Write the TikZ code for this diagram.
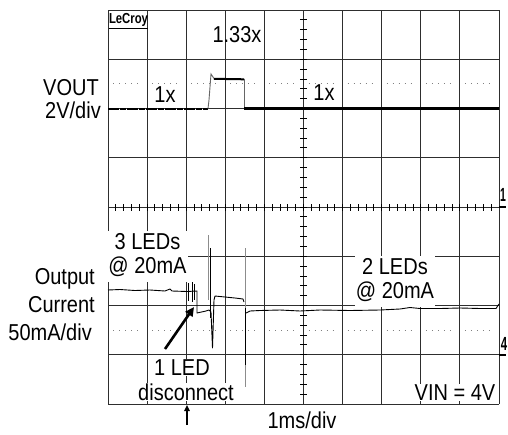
\documentclass[tikz,border=0pt]{standalone}
\usepackage{fontspec}
\setmainfont{Liberation Sans}
\usepackage{graphicx}
\usetikzlibrary{arrows.meta}
\newcommand\vs[1]{\scalebox{1}[1.15]{#1}}
\newcommand\vstwo[2]{\scalebox{1}[1.15]{\begin{tabular}{@{}c@{}}#1\\[-1pt]#2\end{tabular}}}
\begin{document}
\begin{tikzpicture}[x=1pt,y=-1pt,
  gridline/.style={black!82, line width=0.9pt},
  tickline/.style={black, line width=0.9pt},
  dotline/.style={black!50, line width=0.8pt, dash pattern=on 1pt off 5pt},
  trace/.style={black, line width=0.9pt, line join=round},
  graytrace/.style={black!45, line width=1pt},
  lbl/.style={font=\fontsize{20}{22}\selectfont, inner sep=1pt},
  wlbl/.style={lbl, fill=white},
  rlbl/.style={lbl, anchor=east},
  chmark/.style={font=\fontsize{19}{19}\selectfont\bfseries, inner sep=0pt}]
\useasboundingbox (0,0) rectangle (508,434);
\fill[white] (0,0) rectangle (508,434);
% grid
\foreach \i in {0,...,10} \draw[gridline] ({108+39.1*\i},10) -- ({108+39.1*\i},404);
\foreach \j in {0,...,8} \draw[gridline] (108,{10+49.25*\j}) -- (499,{10+49.25*\j});
% center ticks
\foreach \k in {1,...,49} \draw[tickline] ({108+7.82*\k},204) -- ({108+7.82*\k},210.5);
\foreach \k in {1,...,39} \draw[tickline] (300,{10+9.85*\k}) -- (307,{10+9.85*\k});
% dotted reference lines
\foreach \i in {0,...,9} {
  \draw[dotline] ({108+39.1*\i+5},83.6) -- ++(29,0);
  \draw[dotline] ({108+39.1*\i+5},330.1) -- ++(29,0);
}
% upper trace (VOUT)
\draw[black, line width=2pt, dash pattern=on 11pt off 1pt on 6pt off 1pt] (108,108.5) -- (208,108.5);
\draw[black!60, line width=0.9pt] (208,108.5) -- (209,100) -- (211,74) -- (214,78.5);
\draw[black, line width=2pt] (214,78.8) -- (244,79.3);
\draw[black!60, line width=0.9pt] (244,79) -- (244,108.5);
\draw[black, line width=3pt] (244,108.5) -- (499,108.5);
% lower trace (output current)
\draw[trace] (108,290) -- (120,289.5) -- (135,290.5) -- (150,290) -- (165,291) -- (170,289)
  -- (172,291) -- (187,291.5) -- (197,291) -- (197,313) -- (206,311) -- (209,310)
  -- (211,312) -- (212.5,348) -- (214,300) -- (215,296) -- (225,297) -- (235,298)
  -- (243,299) -- (244,302);
\draw[trace] (188,283) -- (188,301) (192,282) -- (192,302) (194.5,284) -- (194.5,300);
\draw[graytrace] (208.3,235) -- (208.3,300);
\draw[black, line width=1.2pt] (210.3,248) -- (210.3,318);
\draw[graytrace] (245,248) -- (245,387);
\draw[black, line width=1.2pt] (245.5,308) -- (245.5,365);
\draw[trace] (246,313) -- (250,311) -- (260,310.5) -- (280,310) -- (300,311) -- (320,310)
  -- (350,310.5) -- (380,310) -- (400,309) -- (410,307.5) -- (420,308.5) -- (440,308.5)
  -- (460,308) -- (480,308.5) -- (496,308.5) -- (499,304);
% channel markers
\node[chmark] (m1) at (503,195) {\scalebox{0.55}[1]{1}};
\draw[black, line width=1.6pt] (499,207) -- (506,207);
\node[chmark] (m4) at (504,344) {\scalebox{0.6}[1]{4}};
\draw[black, line width=1.6pt] (499,355) -- (506,355);
% labels
\node[font=\fontsize{14.5}{15}\selectfont\bfseries, inner sep=0pt] (lecroy) at (128.5,21) {\scalebox{0.78}[1]{\underline{LeCroy}}};
\node[lbl] (x133) at (237,35) {\vs{1.33x}};
\node[wlbl] (x1a) at (165,95) {\vs{1x}};
\node[wlbl] (x1b) at (324,93) {\vs{1x}};
\node[rlbl] (vout) at (100,88) {\vs{VOUT}};
\node[rlbl] (vdiv) at (102,110) {\vs{2V/div}};
\node[rlbl] (out) at (96,279) {\vs{Output}};
\node[rlbl] (cur) at (96,305) {\vs{Current}};
\node[rlbl] (idiv) at (93,332) {\vs{50mA/div}};
\node[wlbl] (three) at (147.5,256.5) {\vstwo{3 LEDs}{@ 20mA}};
\node[wlbl] (two) at (395,281.5) {\vstwo{2 LEDs}{@ 20mA}};
\node[wlbl] (oneled) at (182,367.5) {\vs{1 LED}};
\node[wlbl] (disc) at (186,392) {\vs{disconnect}};
\node[wlbl] (vin) at (455,392.5) {\vs{VIN = 4V}};
\node[lbl] (tdiv) at (302,420.5) {\vs{1ms/div}};
% arrows
\coordinate (arrS) at (165,349);
\coordinate (arrE) at (194,307);
\draw[black, line width=2.6pt, -{Triangle[length=9pt,width=8.5pt]}] (arrS) -- (arrE);
\coordinate (upS) at (187,425);
\coordinate (upE) at (187,405);
\draw[black, line width=1.5pt, -{Triangle[length=6pt,width=5.5pt]}] (upS) -- (upE);
\end{tikzpicture}
\end{document}
